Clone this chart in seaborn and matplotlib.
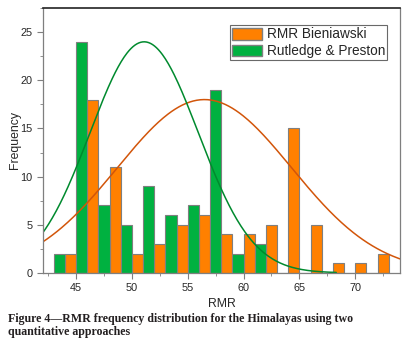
import numpy as np
import pandas as pd
import matplotlib
matplotlib.use("Agg")
import matplotlib.pyplot as plt
import seaborn as sns
from matplotlib.patches import Patch
from matplotlib.ticker import MultipleLocator

# bin centres (bin width 2 RMR units)
bin_centres = [44, 46, 48, 50, 52, 54, 56, 58, 60, 62, 64, 66, 68, 70, 72]
bieniawski = [2, 18, 11, 2, 3, 5, 6, 4, 4, 5, 15, 5, 1, 1, 2]
rutledge = [2, 24, 7, 5, 9, 6, 7, 19, 2, 3, 0, 0, 0, 0, 0]

# fitted normal curves (peak height, mean, sd, x range)
fit_bien = dict(peak=18.0, mean=56.5, sd=7.8, xmin=42.0, xmax=74.0)
fit_rut = dict(peak=24.0, mean=51.1, sd=4.85, xmin=42.0, xmax=68.3)

lab_b = "RMR Bieniawski"
lab_r = "Rutledge & Preston"
col_b = "#FF8000"
col_r = "#00B140"

df = pd.DataFrame({
    "RMR": bin_centres * 2,
    "count": rutledge + bieniawski,
    "method": [lab_r] * len(bin_centres) + [lab_b] * len(bin_centres),
})

sns.set_style("ticks")
plt.rcParams["font.family"] = ["Liberation Sans", "DejaVu Sans"]

fig = plt.figure(figsize=(4.14, 3.53), dpi=100)
ax = fig.add_axes([0.104, 0.227, 0.862, 0.75])

sns.histplot(
    data=df, x="RMR", weights="count", hue="method",
    hue_order=[lab_r, lab_b], palette={lab_r: col_r, lab_b: col_b},
    binrange=(43, 73), binwidth=2, multiple="dodge", shrink=1,
    alpha=1, edgecolor="#7f7f7f", linewidth=0.8, legend=False, ax=ax,
)


def curve(p):
    x = np.linspace(p["xmin"], p["xmax"], 300)
    y = p["peak"] * np.exp(-((x - p["mean"]) ** 2) / (2 * p["sd"] ** 2))
    return x, y


xb, yb = curve(fit_bien)
xr, yr = curve(fit_rut)
sns.lineplot(x=xb, y=yb, color="#D2550A", linewidth=1.1, ax=ax)
sns.lineplot(x=xr, y=yr, color="#008A2E", linewidth=1.1, ax=ax)

ax.set_xlim(42.05, 74)
ax.set_ylim(0, 27.5)
ax.xaxis.set_major_locator(MultipleLocator(5))
ax.xaxis.set_minor_locator(MultipleLocator(2.5))
ax.yaxis.set_major_locator(MultipleLocator(5))
ax.yaxis.set_minor_locator(MultipleLocator(2.5))
ax.tick_params(which="both", direction="out", color="#7f7f7f", labelsize=7.8)
ax.tick_params(which="major", length=4)
ax.tick_params(which="minor", length=2.5)
for s in ["left", "bottom", "right"]:
    ax.spines[s].set_color("#7f7f7f")
    ax.spines[s].set_linewidth(0.9)
ax.spines["top"].set_color("#222222")
ax.spines["top"].set_linewidth(1.2)
ax.set_xlabel("RMR", fontsize=8.8, va="center")
ax.set_ylabel("Frequency", fontsize=8.8, va="center")
ax.xaxis.set_label_coords(0.5, -0.119)
ax.yaxis.set_label_coords(-0.078, 0.5)

handles = [
    Patch(facecolor=col_b, edgecolor="#7f7f7f", label=lab_b),
    Patch(facecolor=col_r, edgecolor="#7f7f7f", label=lab_r),
]
leg = ax.legend(handles=handles, loc="upper right", fontsize=9.8,
                frameon=True, fancybox=False, borderpad=0.15,
                handlelength=2.2, handleheight=0.95, handletextpad=0.35,
                labelspacing=0.2, borderaxespad=0,
                bbox_to_anchor=(0.964, 0.935))
leg.get_frame().set_edgecolor("#444444")
leg.get_frame().set_linewidth(0.8)

fig.text(0.02, 0.113,
         "Figure 4\u2014RMR frequency distribution for the Himalayas using two\nquantitative approaches",
         family=["Liberation Serif", "DejaVu Serif"], fontweight="bold",
         fontsize=8.6, color="#231F20", va="top", linespacing=1.15)

fig.savefig("out.png", dpi=100)
